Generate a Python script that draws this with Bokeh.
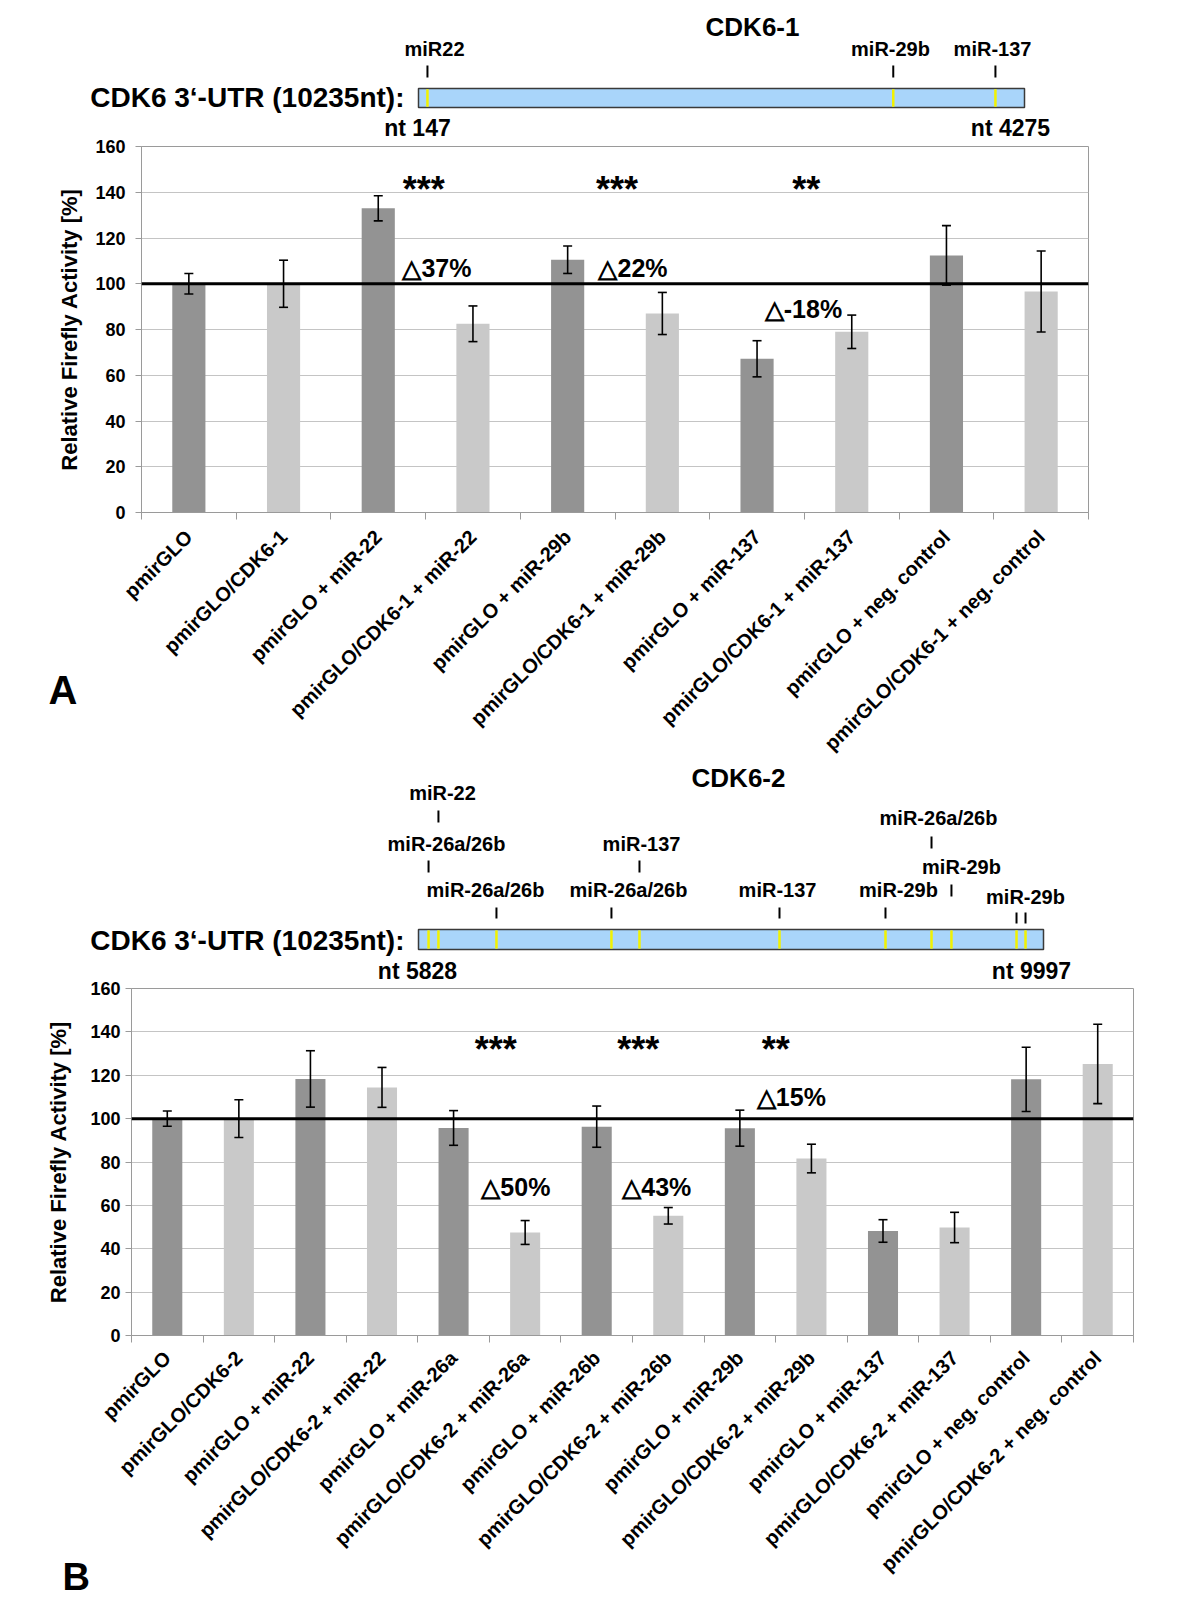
import math
from bokeh.plotting import figure
from bokeh.models import (Range1d, FixedTicker, CustomJSTickFormatter, Span, Whisker,
                          ColumnDataSource, TeeHead)
from bokeh.embed import file_html
from bokeh.resources import INLINE
from bokeh.core.properties import value

FONT = "Liberation Sans"

# ---------------- data: panel A ----------------
cats_a = ["pmirGLO", "pmirGLO/CDK6-1", "pmirGLO + miR-22", "pmirGLO/CDK6-1 + miR-22",
          "pmirGLO + miR-29b", "pmirGLO/CDK6-1 + miR-29b", "pmirGLO + miR-137",
          "pmirGLO/CDK6-1 + miR-137", "pmirGLO + neg. control", "pmirGLO/CDK6-1 + neg. control"]
vals_a = [100, 100, 133, 82.5, 110.5, 87, 67.2, 79, 112.4, 96.6]
errs_a = [4.5, 10.3, 5.5, 7.8, 6, 9.2, 7.9, 7.3, 13, 17.7]
stars_a = ["***", "***", "**"]
deltas_a = ["\u25b337%", "\u25b322%", "\u25b3-18%"]

# ---------------- data: panel B ----------------
cats_b = ["pmirGLO", "pmirGLO/CDK6-2", "pmirGLO + miR-22", "pmirGLO/CDK6-2 + miR-22",
          "pmirGLO + miR-26a", "pmirGLO/CDK6-2 + miR-26a", "pmirGLO + miR-26b",
          "pmirGLO/CDK6-2 + miR-26b", "pmirGLO + miR-29b", "pmirGLO/CDK6-2 + miR-29b",
          "pmirGLO + miR-137", "pmirGLO/CDK6-2 + miR-137", "pmirGLO + neg. control",
          "pmirGLO/CDK6-2 + neg. control"]
vals_b = [100, 100, 118.3, 114.4, 95.7, 47.5, 96.3, 55.2, 95.6, 81.6, 48.2, 49.8, 118.1, 125.2]
errs_b = [3.5, 8.7, 13, 9.2, 8, 5.5, 9.5, 3.8, 8.3, 6.6, 5.2, 7, 14.8, 18.3]
stars_b = ["***", "***", "**"]
deltas_b = ["\u25b350%", "\u25b343%", "\u25b315%"]

# ---------------- data: 3'-UTR schemes (nt) ----------------
utr_a = [147, 4275]
sites_a = [208, 3381, 4077]
site_names_a = ["miR22", "miR-29b", "miR-137"]

utr_b = [5828, 9997]
sites_b = [5895, 5961, 6348, 7115, 7302, 8236, 8943, 9250, 9383, 9817, 9877]
site_names_b = ["miR-26a/26b", "miR-22", "miR-26a/26b", "miR-26a/26b", "miR-137",
                "miR-137", "miR-29b", "miR-26a/26b", "miR-29b", "miR-29b", "miR-29b"]

DARK = "#939393"
LIGHT = "#c9c9c9"
GRID = "#c4c4c4"
AXC = "#9a9a9a"
UTR_FILL = "#a9d5fa"
SITE = "#f2f200"
W = 1200


def place(p, left, top):
    p.styles = {"position": "absolute", "left": "%dpx" % left, "top": "%dpx" % top}


def overlay(height, page_top, px0, px1, nt0, nt1, width=W, left=0):
    k = (nt1 - nt0) / (px1 - px0)
    to_nt = lambda px: nt0 + (px - px0) * k
    p = figure(width=width, height=height, x_range=Range1d(to_nt(left), to_nt(left + width)),
               y_range=Range1d(page_top + height, page_top), output_backend="svg",
               toolbar_location=None, x_axis_location=None, y_axis_location=None,
               min_border=0, min_border_left=0, min_border_right=0,
               min_border_top=0, min_border_bottom=0,
               background_fill_color=None, border_fill_color=None)
    p.grid.visible = False
    p.outline_line_color = None
    place(p, left, page_top)
    return p, to_nt


def txt(p, x, y, t, size, align="center", baseline="middle"):
    p.text(x=[x], y=[y], text=[t], text_align=align, text_baseline=baseline,
           text_font=value(FONT), text_font_style="bold", text_font_size=size,
           text_color="black")


def bars(cats, vals, errs, page_top, fig_h, fl, fr, ft, fb, bw, ylab_standoff, axlab_standoff,
         lab_standoff, stars, star_pos, deltas, delta_pos):
    n = len(cats)
    p = figure(width=W, height=fig_h, x_range=Range1d(0, n), y_range=Range1d(0, 160),
               output_backend="svg", toolbar_location=None,
               min_border_left=fl, min_border_right=W - fr,
               min_border_top=ft - page_top, min_border_bottom=page_top + fig_h - fb)
    place(p, 0, page_top)
    p.outline_line_color = AXC
    p.outline_line_width = 1
    xs = [i + 0.5 for i in range(n)]
    colors = [DARK if i % 2 == 0 else LIGHT for i in range(n)]
    src = ColumnDataSource(dict(x=xs, top=vals, color=colors,
                                upper=[v + e for v, e in zip(vals, errs)],
                                lower=[v - e for v, e in zip(vals, errs)]))
    p.vbar(x="x", top="top", width=bw, bottom=0, fill_color="color", line_color=None, source=src)
    w = Whisker(base="x", upper="upper", lower="lower", source=src, line_color="black",
                line_width=1.6, level="annotation",
                upper_head=TeeHead(size=9, line_color="black", line_width=1.6),
                lower_head=TeeHead(size=9, line_color="black", line_width=1.6))
    p.add_layout(w)
    p.add_layout(Span(location=100, dimension="width", line_color="black", line_width=3))

    # y axis
    p.yaxis.ticker = FixedTicker(ticks=list(range(0, 161, 20)))
    p.ygrid.ticker = FixedTicker(ticks=list(range(20, 161, 20)))
    p.ygrid.grid_line_color = GRID
    p.ygrid.grid_line_width = 1.2
    p.xgrid.visible = False
    p.yaxis.axis_line_color = AXC
    p.yaxis.major_tick_line_color = AXC
    p.yaxis.major_tick_out = 6
    p.yaxis.major_tick_in = 0
    p.yaxis.minor_tick_line_color = None
    p.yaxis.major_label_text_font = FONT
    p.yaxis.major_label_text_font_style = "bold"
    p.yaxis.major_label_text_font_size = "18px"
    p.yaxis.major_label_text_color = "black"
    p.yaxis.major_label_standoff = ylab_standoff
    p.yaxis.axis_label = "Relative Firefly Activity [%]"
    p.yaxis.axis_label_text_font = FONT
    p.yaxis.axis_label_text_font_style = "bold"
    p.yaxis.axis_label_text_font_size = "22px"
    p.yaxis.axis_label_text_color = "black"
    p.yaxis.axis_label_standoff = axlab_standoff

    # x axis
    p.xaxis.ticker = FixedTicker(ticks=xs, minor_ticks=list(range(n + 1)))
    p.xaxis.formatter = CustomJSTickFormatter(args=dict(labels=cats), code="""
        const i = Math.round(tick - 0.5);
        return (i >= 0 && i < labels.length) ? labels[i] : '';
    """)
    p.xaxis.axis_line_color = AXC
    p.xaxis.major_tick_line_color = None
    p.xaxis.major_tick_out = 0
    p.xaxis.major_tick_in = 0
    p.xaxis.minor_tick_line_color = AXC
    p.xaxis.minor_tick_out = 7
    p.xaxis.minor_tick_in = 0
    p.xaxis.major_label_orientation = math.pi / 4
    p.xaxis.major_label_text_font = FONT
    p.xaxis.major_label_text_font_style = "bold"
    p.xaxis.major_label_text_font_size = "20px"
    p.xaxis.major_label_text_color = "black"
    p.xaxis.major_label_standoff = lab_standoff

    for t, (x, y) in zip(stars, star_pos):
        txt(p, x, y, t, "36px")
    for t, (x, y) in zip(deltas, delta_pos):
        txt(p, x, y, t, "25px")
    return p


# ----- bar chart A: frame x 141..1088, y 146..512 -----
bA = bars(cats_a, vals_a, errs_a, 122, 700, 141, 1088, 146, 512, 0.35, 10, 10, 14,
          stars_a, [(2.98, 141), (5.02, 141), (7.02, 141)],
          deltas_a, [(3.12, 107), (5.19, 107), (6.99, 89)])

# ----- bar chart B: frame x 131..1133, y 988..1335 -----
bB = bars(cats_b, vals_b, errs_b, 966, 634, 131, 1133, 988, 1335, 0.42, 5, 16, 12,
          stars_b, [(5.09, 132), (7.08, 132), (9.0, 132)],
          deltas_b, [(5.37, 68.4), (7.34, 68.4), (9.22, 110.2)])

# ----- diagram A (page y 0..140) -----
dA, ntA = overlay(140, 0, 418, 1024, utr_a[0], utr_a[1])
txt(dA, ntA(752), 26, "CDK6-1", "26px")
txt(dA, ntA(404), 97, "CDK6 3\u2018-UTR (10235nt):", "28px", align="right")
dA.quad(left=[utr_a[0]], right=[utr_a[1]], top=[88], bottom=[107],
        fill_color=UTR_FILL, line_color="#3a3a3a", line_width=1.5)
dA.segment(x0=sites_a, x1=sites_a, y0=[88.8] * 3, y1=[106.2] * 3, line_color=SITE, line_width=2.5)
dA.segment(x0=sites_a, x1=sites_a, y0=[65] * 3, y1=[77] * 3, line_color="black", line_width=2)
for name, px in zip(site_names_a, [434, 890, 992]):
    txt(dA, ntA(px), 48, name, "20px")
txt(dA, ntA(417), 127, "nt %d" % utr_a[0], "23px")
txt(dA, ntA(1010), 127, "nt %d" % utr_a[1], "23px")

# ----- diagram B (page y 660..986), also holds the panel letter "A" -----
dB, ntB = overlay(326, 660, 418, 1043, utr_b[0], utr_b[1])
txt(dB, ntB(48), 689, "A", "40px", align="left")
txt(dB, ntB(738), 777, "CDK6-2", "26px")
txt(dB, ntB(404), 940, "CDK6 3\u2018-UTR (10235nt):", "28px", align="right")
dB.quad(left=[utr_b[0]], right=[utr_b[1]], top=[929], bottom=[949],
        fill_color=UTR_FILL, line_color="#3a3a3a", line_width=1.5)
dB.segment(x0=sites_b, x1=sites_b, y0=[929.8] * len(sites_b), y1=[948.2] * len(sites_b),
           line_color=SITE, line_width=2.5)
tick_y = [(860, 872), (810, 822), (907, 918), (907, 918), (860, 872), (907, 918),
          (907, 918), (836, 848), (884, 896), (912, 923), (912, 923)]
dB.segment(x0=sites_b, x1=sites_b, y0=[a for a, b in tick_y], y1=[b for a, b in tick_y],
           line_color="black", line_width=2)
label_pos_b = [("miR-22", 442, 792), ("miR-26a/26b", 446, 843), ("miR-137", 641, 843),
               ("miR-26a/26b", 485, 889), ("miR-26a/26b", 628, 889), ("miR-137", 777, 889),
               ("miR-29b", 898, 889), ("miR-26a/26b", 938, 817), ("miR-29b", 961, 866),
               ("miR-29b", 1025, 896)]
for t, px, py in label_pos_b:
    txt(dB, ntB(px), py, t, "20px")
txt(dB, ntB(417), 970, "nt %d" % utr_b[0], "23px")
txt(dB, ntB(1031), 970, "nt %d" % utr_b[1], "23px")

# ----- panel letter "B" (page y 1520..1600) -----
lB, ntL = overlay(80, 1520, 0, 100, 0, 100, width=100, left=30)
txt(lB, ntL(62), 1576, "B", "38px", align="left")

open("out.html", "w").write(file_html([bA, bB, dA, dB, lB], INLINE))
